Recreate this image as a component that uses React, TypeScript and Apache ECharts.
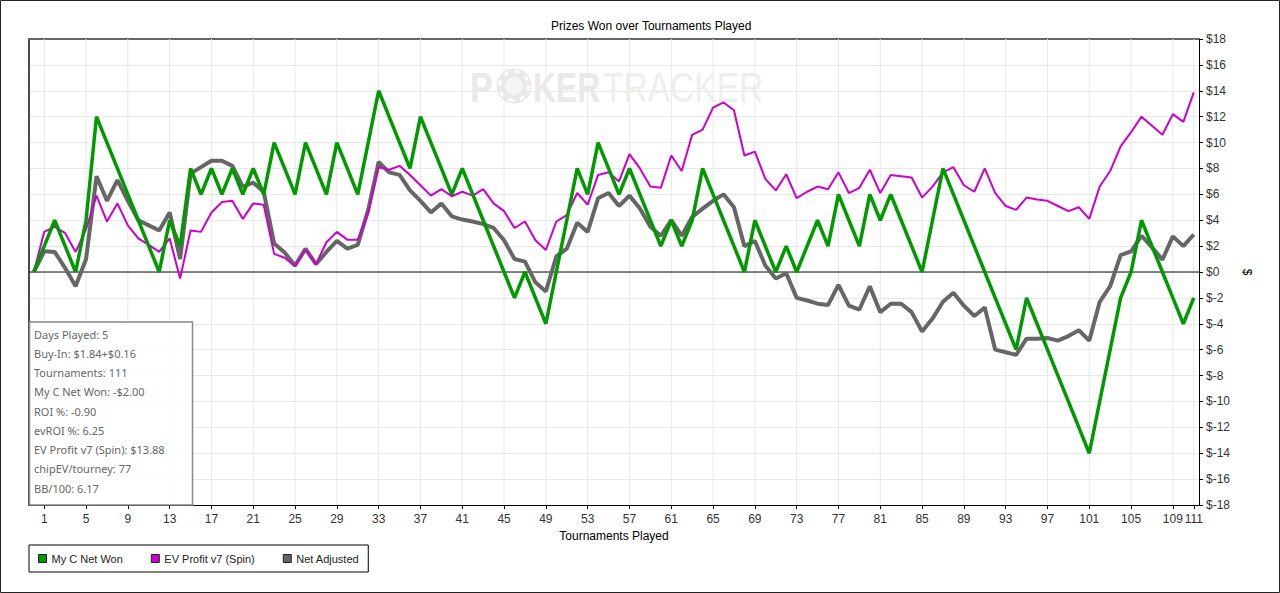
import React, { useEffect, useRef } from "react";
import * as echarts from "echarts";

const titleText = "Prizes Won over Tournaments Played";
const xAxisName = "Tournaments Played";
const yAxisName = "$";
const seriesNames = ["My C Net Won", "EV Profit v7 (Spin)", "Net Adjusted"];
const seriesColors = ["#009900", "#cc00cc", "#666666"];

// index 0 .. 111 (tournaments played)
const netWon = [
  0, 2, 4, 2, 0, 4, 12, 10, 8, 6, 4, 2, 0, 4, 2, 8, 6, 8, 6, 8,
  6, 8, 6, 10, 8, 6, 10, 8, 6, 10, 8, 6, 10, 14, 12, 10, 8, 12, 10, 8,
  6, 8, 6, 4, 2, 0, -2, 0, -2, -4, 0, 4, 8, 6, 10, 8, 6, 8, 6, 4,
  2, 4, 2, 4, 8, 6, 4, 2, 0, 4, 2, 0, 2, 0, 2, 4, 2, 6, 4, 2,
  6, 4, 6, 4, 2, 0, 4, 8, 6, 4, 2, 0, -2, -4, -6, -2, -4, -6, -8, -10,
  -12, -14, -10, -6, -2, 0, 4, 2, 0, -2, -4, -2,
];

const evProfit = [
  0, 3.1, 3.5, 3.0, 1.55, 3.3, 5.9, 3.9, 5.3, 3.6, 2.6, 2.1, 1.55, 2.6, -0.5, 3.2, 3.1, 4.6, 5.4, 5.5,
  4.1, 5.3, 5.2, 1.4, 1.1, 0.45, 1.7, 0.6, 2.3, 3.1, 2.5, 2.5, 4.6, 8.1, 7.9, 8.2, 7.5, 6.7, 5.9, 6.4,
  5.85, 6.2, 5.9, 6.4, 5.3, 4.7, 3.4, 3.9, 2.45, 1.7, 3.9, 4.4, 6.1, 5.2, 7.5, 7.7, 7.0, 9.1, 8.0, 6.6,
  6.5, 9.0, 7.8, 10.6, 11.0, 12.7, 13.1, 12.5, 9.0, 9.3, 7.2, 6.3, 7.55, 5.7, 6.2, 6.6, 6.4, 7.7, 6.1, 6.5,
  7.9, 6.1, 7.5, 7.4, 7.3, 5.75, 6.6, 7.7, 8.1, 6.7, 6.2, 8.0, 6.1, 5.1, 4.8, 5.75, 5.6, 5.5, 5.1, 4.7,
  5.0, 4.1, 6.6, 7.8, 9.7, 10.8, 12.0, 11.3, 10.6, 12.2, 11.6, 13.88,
];

const netAdjusted = [
  0, 1.6, 1.55, 0.3, -1.1, 1.0, 7.4, 5.5, 7.1, 5.5, 4.0, 3.6, 3.2, 4.6, 1.0, 7.6, 8.1, 8.6, 8.6, 8.2,
  6.6, 6.9, 6.2, 2.2, 1.5, 0.5, 1.8, 0.6, 1.55, 2.4, 1.8, 2.1, 4.8, 8.5, 7.7, 7.5, 6.3, 5.5, 4.6, 5.3,
  4.3, 4.05, 3.9, 3.7, 3.4, 2.45, 1.0, 0.8, -0.8, -1.5, 1.2, 1.8, 3.8, 3.1, 5.7, 6.1, 5.1, 5.9, 4.9, 3.5,
  2.8, 4.0, 2.8, 4.25, 4.9, 5.5, 6.0, 5.0, 2.0, 2.4, 0.5, -0.5, -0.1, -2.0, -2.2, -2.45, -2.55, -1.0, -2.6, -2.9,
  -1.1, -3.1, -2.45, -2.45, -3.1, -4.6, -3.6, -2.3, -1.6, -2.6, -3.4, -2.75, -6.0, -6.2, -6.4, -5.15, -5.15, -5.1, -5.3, -4.95,
  -4.5, -5.3, -2.3, -1.1, 1.3, 1.6, 2.8, 1.9, 0.96, 2.75, 2.0, 2.9,
];

const xTicks = [1, 5, 9, 13, 17, 21, 25, 29, 33, 37, 41, 45, 49, 53, 57, 61, 65, 69, 73, 77, 81, 85, 89, 93, 97, 101, 105, 109, 111];
const xMin = -0.46;
const xMax = 111.5;
const yMin = -18;
const yMax = 18;
const yStep = 2;

const infoLines = [
  "Days Played: 5",
  "Buy-In: $1.84+$0.16",
  "Tournaments: 111",
  "My C Net Won: -$2.00",
  "ROI %: -0.90",
  "evROI %: 6.25",
  "EV Profit v7 (Spin): $13.88",
  "chipEV/tourney: 77",
  "BB/100: 6.17",
];

const FONT = "'Liberation Sans', Arial, sans-serif";

export default function App() {
  const ref = useRef<HTMLDivElement>(null);

  useEffect(() => {
    const chart = echarts.init(ref.current!, null, { renderer: "svg" });
    const toPairs = (arr: number[]) => arr.map((v, i) => [i, v]);

    // vertical grid lines at the x tick positions, broken by empty points
    const vGridData: any[] = [];
    xTicks.forEach((v) => {
      vGridData.push([v, yMin], [v, yMax], [v, "-"]);
    });

    const infoText = infoLines.map((t, k) => ({
      type: "text",
      x: 34,
      y: 334 + k * 19.25,
      z: 20,
      style: {
        text: t,
        font: "11px 'Noto Sans', 'Open Sans', sans-serif",
        fill: "#666666",
        textVerticalAlign: "middle",
      },
    }));

    const wmColor = "#e9e9e9";
    const option: any = {
      animation: false,
      backgroundColor: "#ffffff",
      title: {
        text: titleText,
        left: 546,
        top: 15,
        textStyle: { fontSize: 12, fontWeight: "normal", color: "#000", fontFamily: FONT },
      },
      grid: {
        left: 29,
        top: 39,
        right: 81,
        bottom: 88,
        show: false,
      },
      legend: {
        data: seriesNames,
        left: 29,
        top: 545,
        orient: "horizontal",
        padding: [8, 9, 8, 9],
        borderColor: "#000",
        borderWidth: 1,
        itemWidth: 8,
        itemHeight: 8,
        itemGap: 28,
        icon: "rect",
        itemStyle: { borderColor: "#222", borderWidth: 1 },
        textStyle: { fontSize: 11, color: "#222", fontFamily: FONT },
        selectedMode: false,
      },
      xAxis: [
        {
          type: "value",
          min: xMin,
          max: xMax,
          name: xAxisName,
          nameLocation: "middle",
          nameGap: 25,
          nameTextStyle: { fontSize: 12, color: "#000", fontFamily: FONT },
          axisLine: { show: true, onZero: false, lineStyle: { color: "#000", width: 1 } },
          axisTick: { show: true, length: 4, lineStyle: { color: "#000" }, customValues: xTicks },
          axisLabel: { color: "#333", fontSize: 12, fontFamily: FONT, margin: 8, customValues: xTicks },
          splitLine: { show: false },
        },
        {
          type: "value",
          position: "top",
          min: xMin,
          max: xMax,
          axisLine: { show: true, onZero: false, lineStyle: { color: "#666", width: 2 } },
          axisTick: { show: false },
          axisLabel: { show: false },
          splitLine: { show: false },
        },
      ],
      yAxis: [
        {
          type: "value",
          position: "right",
          min: yMin,
          max: yMax,
          interval: yStep,
          name: yAxisName,
          nameLocation: "middle",
          nameRotate: -90,
          nameGap: 40,
          nameTextStyle: { fontSize: 12, color: "#000", fontFamily: FONT },
          axisLine: { show: true, onZero: false, lineStyle: { color: "#000", width: 1 } },
          axisTick: { show: true, length: 4, lineStyle: { color: "#000" } },
          axisLabel: {
            color: "#333",
            fontSize: 12,
            fontFamily: FONT,
            margin: 7,
            formatter: (v: number) => "$" + v,
          },
          splitLine: { show: true, lineStyle: { color: "#e8e8e8", width: 1 } },
        },
        {
          type: "value",
          position: "left",
          min: yMin,
          max: yMax,
          interval: yStep,
          axisLine: { show: true, onZero: false, lineStyle: { color: "#111", width: 1.5 } },
          axisTick: { show: false },
          axisLabel: { show: false },
          splitLine: { show: false },
        },
      ],
      series: [
        {
          name: "grid-x",
          type: "line",
          data: vGridData,
          symbol: "none",
          connectNulls: false,
          silent: true,
          z: 1,
          lineStyle: { color: "#e8e8e8", width: 1 },
          itemStyle: { color: "#e8e8e8" },
        },
        {
          name: "zero-line",
          type: "line",
          data: [
            [xMin, 0],
            [xMax, 0],
          ],
          symbol: "none",
          silent: true,
          z: 2,
          lineStyle: { color: "#111", width: 1.2 },
          itemStyle: { color: "#111" },
        },
        {
          name: seriesNames[2],
          type: "line",
          data: toPairs(netAdjusted),
          symbol: "none",
          lineStyle: { color: seriesColors[2], width: 4 },
          itemStyle: { color: seriesColors[2] },
          z: 3,
        },
        {
          name: seriesNames[1],
          type: "line",
          data: toPairs(evProfit),
          symbol: "none",
          lineStyle: { color: seriesColors[1], width: 2 },
          itemStyle: { color: seriesColors[1] },
          z: 4,
        },
        {
          name: seriesNames[0],
          type: "line",
          data: toPairs(netWon),
          symbol: "none",
          lineStyle: { color: seriesColors[0], width: 3.5 },
          itemStyle: { color: seriesColors[0] },
          z: 5,
        },
      ],
      graphic: [
        // watermark
        {
          type: "text",
          x: 470,
          y: 87,
          z: 1,
          scaleX: 0.79,
          style: { text: "P", font: "bold 43px " + FONT, fill: wmColor, textVerticalAlign: "middle" },
        },
        { type: "circle", z: 1, shape: { cx: 514, cy: 86, r: 17.5 }, style: { fill: wmColor } },
        {
          type: "circle",
          z: 1,
          shape: { cx: 514, cy: 86, r: 14.5 },
          style: { fill: "none", stroke: "#ffffff", lineWidth: 3, lineDash: [5, 6.4] },
        },
        { type: "circle", z: 1, shape: { cx: 514, cy: 86, r: 9 }, style: { fill: "#f4f4f4" } },
        {
          type: "text",
          x: 533,
          y: 87,
          z: 1,
          scaleX: 0.74,
          style: { text: "KER", font: "bold 43px " + FONT, fill: wmColor, textVerticalAlign: "middle" },
        },
        {
          type: "text",
          x: 603,
          y: 87,
          z: 1,
          scaleX: 0.78,
          style: { text: "TRACKER", font: "43px " + FONT, fill: "#eeeeee", textVerticalAlign: "middle" },
        },
        // info box
        {
          type: "rect",
          z: 19,
          shape: { x: 29.5, y: 322, width: 163, height: 183 },
          style: { fill: "rgba(255,255,255,0.9)", stroke: "#888888", lineWidth: 1.5 },
        },
        ...infoText,
        // outer frame
        {
          type: "rect",
          z: 30,
          shape: { x: 0.5, y: 0.5, width: 1279, height: 592 },
          style: { fill: "none", stroke: "#222", lineWidth: 1 },
        },
      ],
    };

    chart.setOption(option);
    return () => chart.dispose();
  }, []);

  return (
    <div
      ref={ref}
      style={{ position: "fixed", left: 0, top: 0, width: 1280, height: 593, background: "#fff" }}
    />
  );
}
